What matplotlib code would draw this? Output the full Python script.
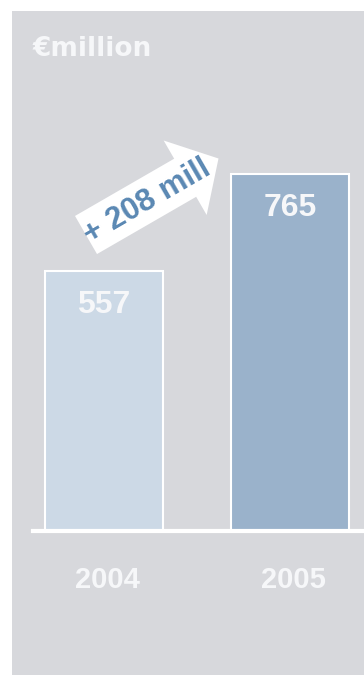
import numpy as np
import matplotlib
matplotlib.use('Agg')
from matplotlib import pyplot as plt
from matplotlib.patches import Rectangle, Polygon

years = ['2004', '2005']
revenue = [557, 765]
bar_colors = ['#ccd9e6', '#9ab2cb']
unit_label = '\u20acmillion'

panel_color = '#d7d8dc'
label_color = '#f6f7f9'
arrow_text_color = '#5a88b3'

W, H = 364, 675
fig = plt.figure(figsize=(W / 100, H / 100), dpi=100, facecolor='white')

# grey backdrop panel, offset from the top-left corner
fig.patches.append(Rectangle((12 / W, 0), 1 - 12 / W, 1 - 11 / H,
                             transform=fig.transFigure, facecolor=panel_color,
                             edgecolor='none', zorder=-5))

ax = fig.add_axes([33 / W, 1 - 530.5 / H, 1 - 33 / W, (530.5 - 100) / H])
ax.patch.set_alpha(0)
x = np.arange(len(years))
ax.bar(x, revenue, width=0.63, color=bar_colors, edgecolor='white',
       linewidth=1.5, zorder=2)
ax.set_xlim(-0.382, 1.398)
ax.set_ylim(0, 925)

for side in ('top', 'left', 'right'):
    ax.spines[side].set_visible(False)
ax.spines['bottom'].set_color('white')
ax.spines['bottom'].set_linewidth(3.0)
ax.spines['bottom'].set_zorder(3)
ax.set_xticks([])
ax.set_yticks([])

for xi, val in zip(x, revenue):
    ax.annotate(str(val), (xi, val), xytext=(0, -24.5), textcoords='offset points',
                ha='center', va='center', fontsize=23, fontweight='bold',
                family='Liberation Sans', color=label_color, zorder=4)

for xi, yr in zip(x, years):
    ax.annotate(yr, (xi + 0.02, 0), xycoords=('data', 'axes fraction'),
                xytext=(0, -36), textcoords='offset points',
                ha='center', va='center', fontsize=21, fontweight='bold',
                family='Liberation Sans', color=label_color)

fig.text(33 / W, 1 - 48.5 / H, unit_label, ha='left', va='center',
         fontsize=19, fontweight='bold', family='DejaVu Sans', color=label_color)

# overlay in pixel coordinates for the growth arrow
ov = fig.add_axes([0, 0, 1, 1])
ov.set_xlim(0, W)
ov.set_ylim(H, 0)
ov.axis('off')
ov.patch.set_alpha(0)

angle = np.deg2rad(30)
u = np.array([np.cos(angle), -np.sin(angle)])
n = np.array([np.sin(angle), np.cos(angle)])
tail = np.array([86.0, 235.0])
length, head_len = 153, 38.5
shaft_hw, head_hw = 22, 43
pts = [tail + shaft_hw * n,
       tail + (length - head_len) * u + shaft_hw * n,
       tail + (length - head_len) * u + head_hw * n,
       tail + length * u,
       tail + (length - head_len) * u - head_hw * n,
       tail + (length - head_len) * u - shaft_hw * n,
       tail - shaft_hw * n]
ov.add_patch(Polygon(pts, closed=True, facecolor='white', edgecolor='none'))

change = revenue[1] - revenue[0]
ov.text(147, 202, f'+ {change} mill', rotation=30, rotation_mode='anchor',
        ha='center', va='center', fontsize=22.5, fontweight='bold',
        family='Liberation Sans', color=arrow_text_color)

fig.savefig('out.png', dpi=100, facecolor='white')
